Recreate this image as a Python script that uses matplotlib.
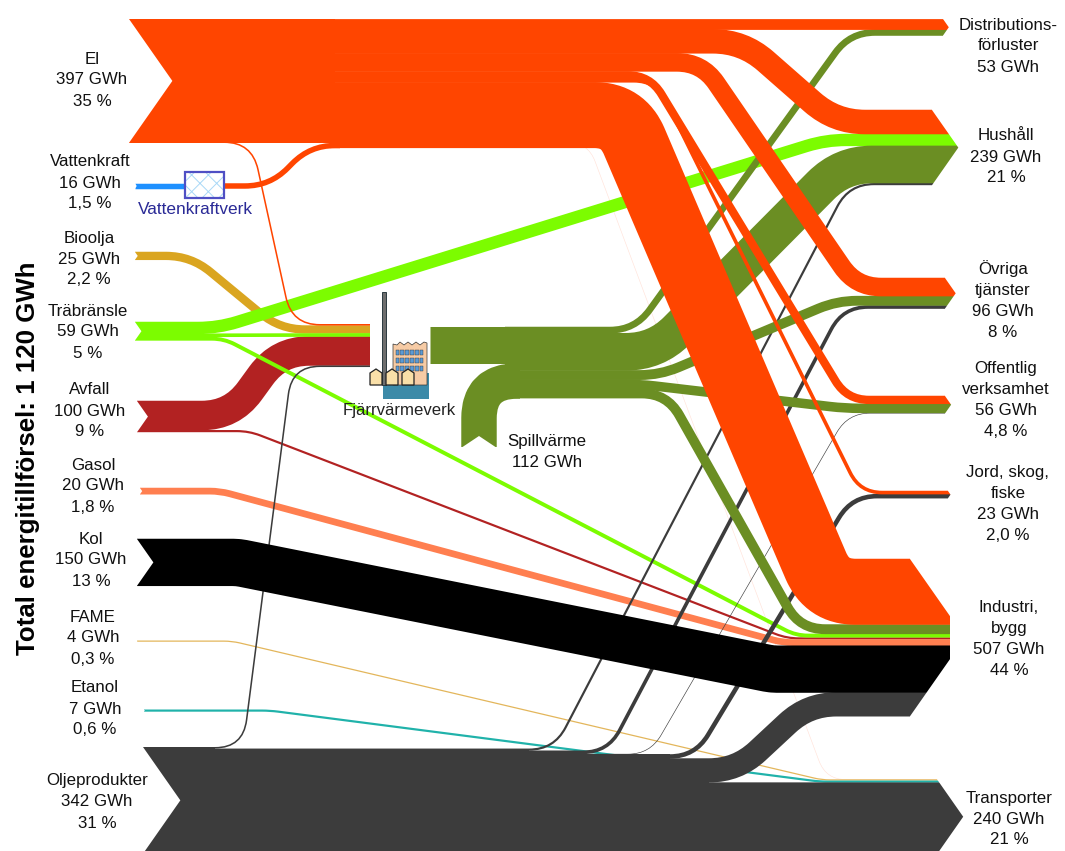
import matplotlib
matplotlib.use('Agg')
import matplotlib.pyplot as plt
from matplotlib.path import Path
from matplotlib.patches import PathPatch, Polygon, Rectangle

plt.rcParams['font.family'] = ['Liberation Sans', 'DejaVu Sans']
plt.rcParams['hatch.linewidth'] = 0.7

# ---------------Data---------------

left_names = ['El', 'Vattenkraft', 'Bioolja', 'Träbränsle', 'Avfall', 'Gasol', 'Kol', 'FAME', 'Etanol', 'Oljeprodukter']
left_gwh = [397, 16, 25, 59, 100, 20, 150, 4, 7, 342]
left_pct = ['35', '1,5', '2,2', '5', '9', '1,8', '13', '0,3', '0,6', '31']

right_names = ['Distributions-\nförluster', 'Hushåll', 'Övriga\ntjänster', 'Offentlig\nverksamhet',
               'Jord, skog,\nfiske', 'Industri,\nbygg', 'Transporter']
right_gwh = [53, 239, 96, 56, 23, 507, 240]
right_pct = ['', '21', '8', '4,8', '2,0', '44', '21']

total_label = 'Total energitillförsel: 1 120 GWh'

# source, target, GWh
flow_src = ['Vattenkraft', 'Vattenkraftverk',
            'El', 'El', 'El', 'El', 'El', 'El', 'El', 'El',
            'Bioolja',
            'Träbränsle', 'Träbränsle', 'Träbränsle',
            'Avfall', 'Avfall', 'Gasol', 'Kol', 'FAME', 'Etanol',
            'Oljeprodukter', 'Oljeprodukter', 'Oljeprodukter', 'Oljeprodukter',
            'Oljeprodukter', 'Oljeprodukter', 'Oljeprodukter',
            'Fjärrvärmeverk', 'Spillvärme',
            'Fjärrvärme', 'Fjärrvärme', 'Fjärrvärme', 'Fjärrvärme', 'Fjärrvärme']
flow_dst = ['Vattenkraftverk', 'El',
            'Distr', 'Hushåll', 'Övriga', 'Offentlig', 'Jord', 'Industri', 'FV', 'Transporter',
            'FV',
            'Hushåll', 'FV', 'Industri',
            'FV', 'Industri', 'Industri', 'Industri', 'Transporter', 'Transporter',
            'FV', 'Hushåll', 'Övriga', 'Offentlig', 'Jord', 'Industri', 'Transporter',
            'Fjärrvärme', 'Fjärrvärme',
            'Distr', 'Hushåll', 'Övriga', 'Offentlig', 'Industri']
flow_gwh = [16, 16,
            33, 77, 58, 25, 10, 210, 5, 2,
            25,
            38, 10, 11,
            93, 7, 20, 150, 4, 7,
            5, 7, 10, 2, 13, 76, 229,
            117, 112,
            20, 119, 30, 29, 30]

# order of the sources on each target, top to bottom
dst_order = {'Distr': ['El', 'Fjärrvärme'],
             'Hushåll': ['El', 'Träbränsle', 'Fjärrvärme', 'Oljeprodukter'],
             'Övriga': ['El', 'Fjärrvärme', 'Oljeprodukter'],
             'Offentlig': ['El', 'Fjärrvärme', 'Oljeprodukter'],
             'Jord': ['El', 'Oljeprodukter'],
             'Industri': ['El', 'Fjärrvärme', 'Träbränsle', 'Avfall', 'Gasol', 'Kol', 'Oljeprodukter'],
             'Transporter': ['FAME', 'Etanol', 'Oljeprodukter'],
             'FV': ['El', 'Bioolja', 'Träbränsle', 'Avfall', 'Oljeprodukter'],
             'Fjärrvärme': ['Fjärrvärmeverk', 'Spillvärme'],
             'El': ['Vattenkraftverk'],
             'Vattenkraftverk': ['Vattenkraft']}

# ---------------Layout (pixels of the 1065x851 picture)---------------

px_per_gwh = 0.312
arrow_slope = 0.7

left_x = dict(zip(left_names, [129, 135, 135, 135, 137, 140, 137, 137, 144, 143]))
left_top = dict(zip(left_names, [19, 183.5, 252, 322, 401, 488, 539, 640.5, 709.5, 747]))
right_x = dict(zip(['Distr', 'Hushåll', 'Övriga', 'Offentlig', 'Jord', 'Industri', 'Transporter'],
                   [943, 932, 945, 945, 948, 910, 937]))
right_top = dict(zip(['Distr', 'Hushåll', 'Övriga', 'Offentlig', 'Jord', 'Industri', 'Transporter'],
                     [19, 110, 278, 396, 491, 559, 779.3]))

# stacks of the nodes in the middle
src_top = dict(left_top)
src_top.update({'Vattenkraftverk': 183.5, 'Fjärrvärmeverk': 327, 'Fjärrvärme': 327, 'Spillvärme': 0})
src_start = dict(left_x)
src_start.update({'Vattenkraftverk': 224, 'Fjärrvärmeverk': 430, 'Fjärrvärme': 505, 'El': 330, 'Spillvärme': 479})
dst_top = dict(right_top)
dst_top.update({'Vattenkraftverk': 183.5, 'El': 143, 'FV': 324, 'Fjärrvärme': 327})
dst_end = {'Vattenkraftverk': 190, 'El': 340, 'FV': 370, 'Fjärrvärme': 520}

# bends of each flow: x and the corner cut, None = straight
bend_x0 = [None, 270,
           None, 743, 702, 650, 656, 623, 252, 588,
           191,
           218, None, 224,
           232, 249, 220, 238, 232, 270,
           243, 554, 608, 650, 695, 737, None,
           None, None,
           635, 656, 660, 640, 667]
bend_x1 = [None, 310,
           None, 835, 856, 847, 860, 827, 292, 826,
           280,
           826, None, 796,
           279, 787, 783, 772, 822, 820,
           292, 849, 843, 848, 852, 808, None,
           None, None,
           850, 842, 837, 845, 800]
bend_d = [0, 25,
          0, 30, 25, 22, 22, 28, 28, 20,
          25,
          20, 0, 12,
          30, 12, 10, 5, 8, 8,
          28, 25, 25, 22, 25, 28, 0,
          0, 0,
          25, 30, 20, 15, 25]
# flows that leave below the stack of the node
start_y = {8: 142.2, 9: 142.5}

flow_color = {'Vattenkraft': '#1E90FF', 'Vattenkraftverk': '#FF4500', 'El': '#FF4500', 'Bioolja': '#DAA520',
              'Träbränsle': '#7CFC00', 'Avfall': '#B22222', 'Gasol': '#FF7F50', 'Kol': '#000000',
              'FAME': '#E3B65B', 'Etanol': '#20B2AA', 'Oljeprodukter': '#3C3C3C',
              'Fjärrvärmeverk': '#6B8E23', 'Spillvärme': '#6B8E23', 'Fjärrvärme': '#6B8E23'}
# drawing order, later is on top
src_layer = {'FAME': 1, 'Etanol': 1, 'Gasol': 2, 'Avfall': 2, 'Träbränsle': 3, 'Bioolja': 3, 'Oljeprodukter': 4,
             'Fjärrvärme': 5, 'Fjärrvärmeverk': 5, 'Spillvärme': 5, 'Vattenkraftverk': 6, 'El': 6, 'Kol': 7,
             'Vattenkraft': 6}


def flowPath(x0, y0, x1, y1, bx0, bx1, d):
    if bx0 is None:
        return Path([(x0, y0), (x1, y1)])
    run = ((bx1 - bx0) ** 2 + (y1 - y0) ** 2) ** 0.5
    ux, uy = (bx1 - bx0) / run, (y1 - y0) / run
    verts = [(x0, y0), (bx0 - d, y0), (bx0, y0), (bx0 + ux * d, y0 + uy * d),
             (bx1 - ux * d, y1 - uy * d), (bx1, y1), (bx1 + d, y1), (x1, y1)]
    codes = [Path.MOVETO, Path.LINETO, Path.CURVE3, Path.CURVE3, Path.LINETO, Path.CURVE3, Path.CURVE3, Path.LINETO]
    return Path(verts, codes)


# ---------------Plot---------------

fig = plt.figure(figsize=(10.65, 8.51), dpi=100)
ax = fig.add_axes([0, 0, 1, 1])
ax.set_xlim(0, 1065)
ax.set_ylim(851, 0)
ax.axis('off')
pt = 72.0 / fig.dpi

# stack the flows on the targets first
dst_y = {}
dst_used = {}
for t, order in dst_order.items():
    used = 0
    for s in order:
        for i in range(len(flow_src)):
            if flow_src[i] == s and flow_dst[i] == t:
                w = flow_gwh[i] * px_per_gwh
                dst_y[i] = dst_top[t] + used + w / 2
                used += w
    dst_used[t] = used

src_used = {}
for i, (s, t, v) in enumerate(zip(flow_src, flow_dst, flow_gwh)):
    w = v * px_per_gwh
    if i in start_y:
        y0 = start_y[i]
    else:
        y0 = src_top[s] + src_used.get(s, 0) + w / 2
        src_used[s] = src_used.get(s, 0) + w
    # El to Transporter is only a trace on top of the stack
    y1 = dst_y.get(i, right_top['Transporter'] + 0.3)
    if t in right_x:
        x1 = right_x[t] + 40
    else:
        x1 = dst_end[t]
    if s == 'Spillvärme':
        # comes up from below and turns right
        verts = [(479, 447), (479, 418), (479, y1), (517, y1), (x1, y1)]
        codes = [Path.MOVETO, Path.LINETO, Path.CURVE3, Path.CURVE3, Path.LINETO]
        p = Path(verts, codes)
    else:
        p = flowPath(src_start[s], y0, x1, y1, bend_x0[i], bend_x1[i], bend_d[i])
    color = flow_color[s]
    z = 2 + src_layer[s] * 0.1
    if t == 'Transporter' and s == 'El':
        color = '#FFE3DA'
        z = 2
    # a little overlap so that stacked flows show no seams
    lw = w + 0.5 if w > 3 else w
    ax.add_patch(PathPatch(p, fc='none', ec=color, lw=lw * pt, capstyle='butt', joinstyle='round', zorder=z))

# el node in front of the stack
el_h = left_gwh[0] * px_per_gwh
ax.add_patch(Rectangle((left_x['El'], left_top['El']), 335 - left_x['El'], el_h, fc=flow_color['El'], ec='none', zorder=2.6))

# oil band gets thinner each time a flow leaves it
oil_top = left_top['Oljeprodukter']
oil_h = left_gwh[-1] * px_per_gwh
band_x = left_x['Oljeprodukter']
band_used = 0
for i in range(len(flow_src)):
    if flow_src[i] == 'Oljeprodukter' and bend_x0[i] is not None:
        band_end = bend_x0[i] - bend_d[i]
        ax.add_patch(Rectangle((band_x, oil_top + band_used), band_end - band_x, oil_h - band_used,
                               fc=flow_color['Oljeprodukter'], ec='none', zorder=2.45))
        band_x = band_end
        band_used += flow_gwh[i] * px_per_gwh

# white cuts for the chevrons and arrow heads
for name, gwh in zip(left_names, left_gwh):
    h = gwh * px_per_gwh
    x = left_x[name]
    top = left_top[name]
    ax.add_patch(Polygon([(x - 2, top - 1), (x, top), (x + arrow_slope * h / 2, top + h / 2), (x, top + h), (x - 2, top + h + 1)],
                         fc='white', ec='none', zorder=10))
for name in right_x:
    h = dst_used[name]
    x = right_x[name]
    top = right_top[name]
    tip = x + arrow_slope * h / 2
    ax.add_patch(Polygon([(x, top - 1), (x, top), (tip, top + h / 2), (x, top + h), (x, top + h + 1), (x + 60, top + h + 1), (x + 60, top - 1)],
                         fc='white', ec='none', zorder=10))
ax.add_patch(Polygon([(461, 448), (479, 436), (497, 448)], fc='white', ec='none', zorder=10))

# Vattenkraftverk icon
ax.add_patch(Rectangle((184.5, 172), 39, 26, fc='white', ec='#A9D8F7', hatch='xx', lw=0, zorder=11))
ax.add_patch(Rectangle((184.5, 172), 39, 26, fc='none', ec='#4F4FC4', lw=1.6, zorder=12))

# Fjärrvärmeverk icon
ax.add_patch(Rectangle((383, 373), 46, 26, fc='#3C8AA8', ec='none', zorder=11))
roof = [(393, 385), (393, 344), (397, 345), (400, 342), (404, 345), (408, 342), (412, 345), (416, 342), (420, 345), (424, 342), (427, 343), (427, 385)]
ax.add_patch(Polygon(roof, fc='#F6CBA5', ec='#333333', lw=0.5, zorder=12))
for wy in [350, 358, 366]:
    for k in range(6):
        ax.add_patch(Rectangle((395.5 + k * 4.9, wy), 3.4, 4.5, fc='#5B9BD5', ec='#333333', lw=0.3, zorder=13))
ax.add_patch(Rectangle((382, 292), 4, 93, fc='#6E6E6E', ec='#2B3A40', lw=0.7, zorder=14))
for hx in [370, 386, 402]:
    house = [(hx, 385), (hx, 373), (hx + 6, 369), (hx + 12, 373), (hx + 12, 385)]
    ax.add_patch(Polygon(house, fc='#F9DFA8', ec='#222222', lw=0.9, zorder=15))

# ---------------Text---------------

font_size = 12.2
spacing = 1.5
label_x = [92, 90, 89, 88, 90, 93, 91, 93, 95, 97]
label_y = [80, 183, 259, 332, 411, 486, 560, 638, 709, 802]
for name, gwh, pct, x, y in zip(left_names, left_gwh, left_pct, label_x, label_y):
    ax.text(x, y, f'{name}\n{gwh} GWh\n{pct} %', ha='center', va='center', fontsize=font_size, linespacing=spacing, color='#111111', zorder=30)

label_x = [1008, 1006, 1003, 1006, 1008, 1009, 1009]
label_y = [46, 157, 300, 400, 504, 639, 819]
for name, gwh, pct, x, y in zip(right_names, right_gwh, right_pct, label_x, label_y):
    txt = f'{name}\n{gwh} GWh'
    if pct:
        txt += f'\n{pct} %'
    ax.text(x, y, txt, ha='center', va='center', fontsize=font_size, linespacing=spacing, color='#111111', zorder=30)

ax.text(547, 452, 'Spillvärme\n112 GWh', ha='center', va='center', fontsize=font_size, linespacing=spacing, color='#111111', zorder=30)
ax.text(195, 210, 'Vattenkraftverk', ha='center', va='center', fontsize=12.4, color='#2A2A96', zorder=30)
ax.text(399, 411, 'Fjärrvärmeverk', ha='center', va='center', fontsize=12.1, color='#222222', zorder=30)
ax.text(28, 458, total_label, rotation=90, ha='center', va='center', fontsize=18.6, fontweight='bold', color='black', zorder=30)

fig.savefig('out.png', dpi=100)
